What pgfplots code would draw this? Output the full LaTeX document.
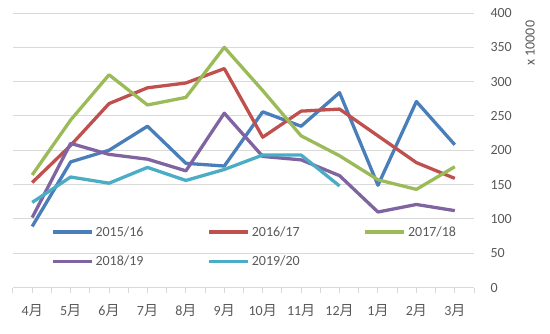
\documentclass[border=0pt]{standalone}
\usepackage{fontspec}
\setmainfont{Carlito}
\newfontfamily\cjk{Noto Sans CJK SC}
\usepackage{pgfplots}
\pgfplotsset{compat=1.18}
\definecolor{cA}{HTML}{4A7EBB}
\definecolor{cB}{HTML}{C0504D}
\definecolor{cC}{HTML}{9BBB59}
\definecolor{cD}{HTML}{8064A2}
\definecolor{cE}{HTML}{4BACC6}
\definecolor{txt}{HTML}{595959}
\definecolor{gridc}{HTML}{D9D9D9}
\begin{document}
\begin{tikzpicture}
\begin{axis}[
  scale only axis, width=461pt, height=274.5pt,
  xmin=-0.5, xmax=11.5, ymin=0, ymax=400,
  axis x line*=bottom, axis y line*=right,
  y axis line style={draw=none},
  x axis line style={draw=gridc, line width=1pt, -},
  xtick={-0.5,0.5,...,11.5},
  xticklabel=\empty,
  xtick style={draw=gridc, line width=1pt},
  major tick length=5pt, tick align=outside,
  extra x ticks={0,1,...,11},
  extra x tick labels={4{\cjk 月},5{\cjk 月},6{\cjk 月},7{\cjk 月},8{\cjk 月},9{\cjk 月},10{\cjk 月},11{\cjk 月},12{\cjk 月},1{\cjk 月},2{\cjk 月},3{\cjk 月}},
  extra x tick style={tick style={draw=none}},
  ytick={0,50,...,400},
  ytick style={draw=none},
  yticklabel pos=right,
  ymajorgrids, grid style={draw=gridc, line width=1pt},
  tick label style={font=\fontsize{14}{16}\selectfont, text=txt},
  xticklabel style={yshift=-8pt},
  yticklabel style={anchor=west, xshift=8pt},
  /pgf/number format/assume math mode=true,
  legend columns=3,
  legend style={draw=none, fill=none, at={(0.076,0.238)}, anchor=north west,
    font=\fontsize{14}{16}\selectfont, text=txt, row sep=14pt,
    /tikz/every even column/.append style={column sep=62pt}},
  legend image code/.code={\draw[#1, line width=3.3pt] (0pt,0pt) -- (39pt,0pt);},
  every axis plot/.append style={line width=3.3pt, line join=round, no markers},
  clip=false,
]
\addplot[cA] coordinates {(0,89)(1,183)(2,200)(3,235)(4,181)(5,177)(6,256)(7,235)(8,284)(9,149)(10,271)(11,208)};
\addlegendentry{2015/16}
\addplot[cB] coordinates {(0,153)(1,207)(2,268)(3,291)(4,298)(5,319)(6,219)(7,257)(8,260)(9,221)(10,182)(11,159)};
\addlegendentry{2016/17}
\addplot[cC] coordinates {(0,164)(1,244)(2,310)(3,266)(4,277)(5,350)(6,287)(7,221)(8,192)(9,157)(10,143)(11,176)};
\addlegendentry{2017/18}
\addplot[cD] coordinates {(0,102)(1,210)(2,194)(3,187)(4,170)(5,254)(6,191)(7,186)(8,163)(9,110)(10,121)(11,112)};
\addlegendentry{2018/19}
\addplot[cE] coordinates {(0,124)(1,161)(2,152)(3,175)(4,156)(5,172)(6,193)(7,193)(8,148)};
\addlegendentry{2019/20}
\node[rotate=90, font=\fontsize{14}{16}\selectfont, text=txt] at (rel axis cs:1.1215,0.89) {x 10000};
\coordinate (bl) at (rel axis cs:0,0);
\coordinate (tr) at (rel axis cs:1,1);
\end{axis}
\pgfresetboundingbox
\path[use as bounding box] ([shift={(-13pt,-45.5pt)}]bl) rectangle ([shift={(76pt,13pt)}]tr);
\end{tikzpicture}
\end{document}
